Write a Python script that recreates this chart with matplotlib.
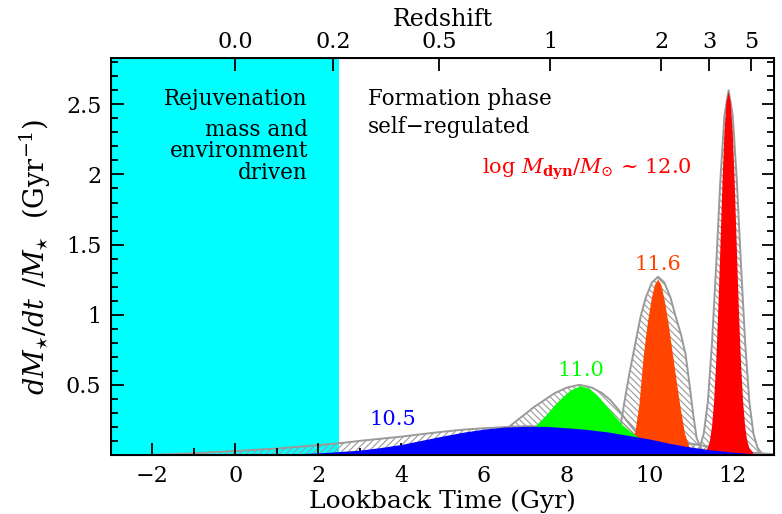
import numpy as np
import matplotlib
matplotlib.use('Agg')
import matplotlib.pyplot as plt
from matplotlib.ticker import MultipleLocator

plt.rcParams.update({
    'font.family': 'DejaVu Serif',
    'mathtext.fontset': 'dejavuserif',
    'font.size': 15,
    'hatch.linewidth': 0.8,
})

# ── Data (lookback time in Gyr, sSFR in Gyr^-1) ─────────────────────────────
# log Mdyn = 12.0 (red)
t_red = [11.30, 11.40, 11.45, 11.50, 11.55, 11.60, 11.65, 11.70, 11.75, 11.80, 11.85, 11.90,
         11.95, 12.00, 12.05, 12.10, 12.15, 12.20, 12.25, 12.30, 12.35, 12.40, 12.50]
v_red = [0.01, 0.05, 0.10, 0.20, 0.38, 0.65, 1.02, 1.46, 1.92, 2.30, 2.52, 2.59,
         2.52, 2.30, 1.92, 1.46, 1.02, 0.65, 0.38, 0.20, 0.10, 0.05, 0.01]
t_red_env = [11.10, 11.20, 11.30, 11.40, 11.50, 11.60, 11.70, 11.80, 11.90,
             12.00, 12.10, 12.20, 12.30, 12.40, 12.50, 12.60, 12.70]
v_red_env = [0.01, 0.05, 0.15, 0.38, 0.80, 1.35, 1.95, 2.42, 2.60,
             2.42, 1.95, 1.35, 0.80, 0.38, 0.15, 0.05, 0.01]

# log Mdyn = 11.6 (orange)
t_ora = [9.45, 9.55, 9.65, 9.75, 9.85, 9.95, 10.05, 10.12, 10.20, 10.28, 10.36,
         10.45, 10.55, 10.65, 10.75, 10.85, 10.95, 11.05]
v_ora = [0.02, 0.06, 0.16, 0.36, 0.70, 0.94, 1.12, 1.21, 1.25, 1.21, 1.10,
         0.94, 0.73, 0.52, 0.32, 0.15, 0.06, 0.02]
t_ora_env = [9.10, 9.20, 9.30, 9.40, 9.50, 9.62, 9.78, 9.90, 10.05, 10.20, 10.35,
             10.50, 10.62, 10.75, 10.86, 10.95, 11.05, 11.13, 11.25]
v_ora_env = [0.02, 0.08, 0.22, 0.40, 0.57, 0.75, 0.99, 1.12, 1.23, 1.27, 1.23,
             1.12, 0.99, 0.86, 0.72, 0.52, 0.28, 0.12, 0.03]

# log Mdyn = 11.0 (green)
t_gre = [5.9, 6.3, 6.6, 6.9, 7.1, 7.3, 7.5, 7.7, 7.9, 8.1, 8.33, 8.55, 8.75,
         8.95, 9.15, 9.35, 9.6, 9.9, 10.2, 10.6, 11.0]
v_gre = [0.01, 0.03, 0.06, 0.11, 0.16, 0.22, 0.28, 0.35, 0.41, 0.46, 0.49, 0.47, 0.42,
         0.35, 0.28, 0.21, 0.15, 0.09, 0.05, 0.02, 0.01]
t_gre_env = [5.6, 6.0, 6.3, 6.6, 6.9, 7.2, 7.45, 7.7, 8.0, 8.3, 8.6, 8.85, 9.05,
             9.25, 9.45, 9.7, 10.0, 10.3, 10.7]
v_gre_env = [0.01, 0.05, 0.12, 0.20, 0.27, 0.34, 0.39, 0.44, 0.48, 0.50, 0.48, 0.44, 0.39,
             0.32, 0.24, 0.15, 0.08, 0.04, 0.01]

# log Mdyn = 10.5 (blue)
t_blu = [1.0, 2.0, 3.0, 3.5, 4.0, 4.5, 5.0, 5.5, 6.0, 6.5, 7.0, 7.5, 8.0, 8.5, 9.0,
         9.5, 10.0, 10.5, 11.0, 11.5, 12.0, 12.8]
v_blu = [0.0, 0.01, 0.03, 0.048, 0.07, 0.10, 0.13, 0.158, 0.18, 0.195, 0.20, 0.20, 0.19,
         0.178, 0.16, 0.135, 0.11, 0.078, 0.052, 0.032, 0.016, 0.0]
t_blu_env = [-2.0, -1.0, 0.0, 1.0, 2.0, 2.5, 3.0, 3.5, 4.0, 4.5, 5.0, 5.5, 6.0, 6.5, 7.0,
             7.5, 8.0, 8.5, 9.0, 9.5, 10.0, 10.5, 11.0, 11.5, 12.0, 12.5, 13.0]
v_blu_env = [0.0, 0.012, 0.028, 0.045, 0.07, 0.083, 0.10, 0.115, 0.13, 0.148, 0.165, 0.18,
             0.19, 0.198, 0.205, 0.202, 0.195, 0.185, 0.17, 0.15, 0.13, 0.105, 0.08, 0.055,
             0.035, 0.015, 0.005]

# top axis: redshift ticks and their lookback times
z_labels = ['0.0', '0.2', '0.5', '1', '2', '3', '5']
z_lookback = [0.0, 2.35, 4.92, 7.60, 10.27, 11.43, 12.45]

rejuv_end = 2.5

CYAN   = '#00FFFF'
BLUE   = '#0000FF'
GREEN  = '#00FF00'
ORANGE = '#FF4500'
RED    = '#FF0000'
GREY   = '#9a9a9a'

curves = [
    (t_red, v_red, t_red_env, v_red_env, RED, '\\\\\\\\\\'),
    (t_ora, v_ora, t_ora_env, v_ora_env, ORANGE, '\\\\\\\\\\'),
    (t_gre, v_gre, t_gre_env, v_gre_env, GREEN, '\\\\\\\\\\'),
    (t_blu, v_blu, t_blu_env, v_blu_env, BLUE, '/////'),
]

fig = plt.figure(figsize=(7.82, 5.14), dpi=100)
ax = fig.add_axes([0.142, 0.115, 0.848, 0.772])

ax.axvspan(-3, rejuv_end, color=CYAN, lw=0, zorder=0)

for t, v, te, ve, col, hatch in curves:
    ax.fill_between(te, ve, 0, facecolor='none', edgecolor=GREY,
                    hatch=hatch, lw=1.4, zorder=1)
    ax.fill_between(t, v, 0, facecolor=col, edgecolor='none', lw=0, zorder=2)

ax.set_xlim(-3, 13)
ax.set_ylim(0, 2.83)
ax.xaxis.set_major_locator(MultipleLocator(2))
ax.xaxis.set_minor_locator(MultipleLocator(1))
ax.yaxis.set_minor_locator(MultipleLocator(0.1))
ax.set_yticks([0.5, 1, 1.5, 2, 2.5])
ax.set_yticklabels(['0.5', '1', '1.5', '2', '2.5'])
ax.tick_params(which='both', direction='in', right=True, top=False, width=1.3)
ax.tick_params(which='major', length=9, labelsize=16, pad=7)
ax.tick_params(which='minor', length=5)
for s in ax.spines.values():
    s.set_linewidth(1.4)

ax.set_xlabel('Lookback Time (Gyr)', fontsize=18, labelpad=2)
ax.set_ylabel(r'$dM_{\star}/dt\;\,/M_{\star}$  (Gyr$^{-1}$)', fontsize=19.5, labelpad=9)

axt = ax.twiny()
axt.set_xlim(ax.get_xlim())
axt.set_xticks(z_lookback)
axt.set_xticklabels(z_labels)
axt.xaxis.set_minor_locator(plt.NullLocator())
axt.tick_params(direction='in', length=9, width=1.3, labelsize=16, pad=4)
axt.set_xlabel('Redshift', fontsize=17, labelpad=3)

ax.text(1.75, 2.54, 'Rejuvenation', ha='right', va='center', fontsize=15.5)
ax.text(1.75, 2.32, 'mass and', ha='right', va='center', fontsize=15.5)
ax.text(1.75, 2.165, 'environment', ha='right', va='center', fontsize=15.5)
ax.text(1.75, 2.01, 'driven', ha='right', va='center', fontsize=15.5)
ax.text(3.2, 2.54, 'Formation phase', ha='left', va='center', fontsize=15.5)
ax.text(3.2, 2.34, 'self\u2212regulated', ha='left', va='center', fontsize=15.5)

ax.text(5.94, 2.04, r'log $M_{\mathbf{dyn}}/M_{\odot}$ ~ 12.0', color=RED,
        ha='left', va='center', fontsize=15)
ax.text(10.19, 1.36, '11.6', color=ORANGE, ha='center', va='center', fontsize=15)
ax.text(8.33, 0.60, '11.0', color=GREEN, ha='center', va='center', fontsize=15)
ax.text(3.8, 0.25, '10.5', color=BLUE, ha='center', va='center', fontsize=15)

fig.savefig('out.png', dpi=100)
